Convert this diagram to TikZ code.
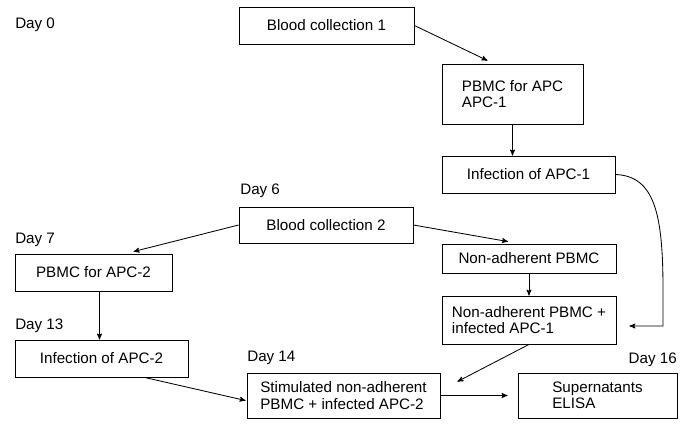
\documentclass[tikz,border=0pt]{standalone}
\usepackage{fontspec}
\setmainfont{Liberation Sans}
\usepackage{tikz}
\usetikzlibrary{shapes,arrows,calc}

\begin{document}
\begin{tikzpicture}[x=0.025cm,y=-0.025cm]
      \tikzset{box/.style 2 args={draw,
          line width=0.6pt,
          rectangle,
          align=left,
          inner sep=0pt,
          minimum width=#1*0.025cm,
          minimum height=#2*0.025cm},
        flow/.style={-stealth', line width=0.6pt},
        day/.style={inner sep=0pt, anchor=west},
        every node/.style={font=\fontsize{10.8}{11.6}\selectfont}
      }
      \useasboundingbox (0,0) rectangle (681,427);
      % day labels
      \node [day] (d0) at (15,25) {Day 0};
      \node [day] (d6) at (240,191) {Day 6};
      \node [day] (d7) at (15,240) {Day 7};
      \node [day] (d13) at (15,326) {Day 13};
      \node [day] (d14) at (247,358) {Day 14};
      \node [day, anchor=east] (d16) at (677,360) {Day 16};
      % boxes
      \node [box={175}{37}] (bc1) at (326.5,25.5) {Blood collection 1};
      \node [box={141}{60}] (apc1) at (512.5,94) {PBMC for APC\\APC-1};
      \node [box={173}{37}] (inf1) at (528.5,174.5) {Infection of APC-1};
      \node [box={174}{36}] (bc2) at (326,225) {Blood collection 2};
      \node [box={174}{29}] (nap) at (529,258.5) {Non-adherent PBMC};
      \node [box={174}{48}] (napi) at (529,320) {Non-adherent PBMC +\\infected APC-1};
      \node [box={157}{37}] (apc2) at (93.5,272.5) {PBMC for APC-2};
      \node [box={173}{37}] (inf2) at (101.5,358.5) {Infection of APC-2};
      \node [box={193}{45}] (stim) at (343.5,395.5) {Stimulated non-adherent\\PBMC + infected APC-2};
      \node [box={159}{45}] (sup) at (597.5,395.5) {Supernatants\\ELISA};
      \coordinate (loopend) at ($(napi.east)+(13,6)$);
      % connectors
      \draw [flow] (bc1.east) -- ($(apc1.north)+(-25,-3)$);
      \draw [flow] (apc1.south) -- (apc1.south |- inf1.north);
      \draw [flow] (inf1.east) .. controls (655,176) and (663,215) .. (663,290) -- (663,326) -- (loopend);
      \draw [flow] (bc2.west) -- ($(apc2.north)+(40,-2)$);
      \draw [flow] (bc2.east) -- ($(nap.north)+(-21,-2)$);
      \draw [flow] (nap.south) -- (nap.south |- napi.north);
      \draw [flow] ($(apc2.south)+(6,0)$) -- ($(inf2.north)+(-2,0)$);
      \draw [flow] ($(inf2.south)+(43,0)$) -- ($(stim.west)+(-1,5)$);
      \draw [flow] (napi.south) -- ($(stim.north east)+(17,9)$);
      \draw [flow] (stim.east) -- ($(sup.west)+(-10,0)$);
    \end{tikzpicture}
\end{document}
